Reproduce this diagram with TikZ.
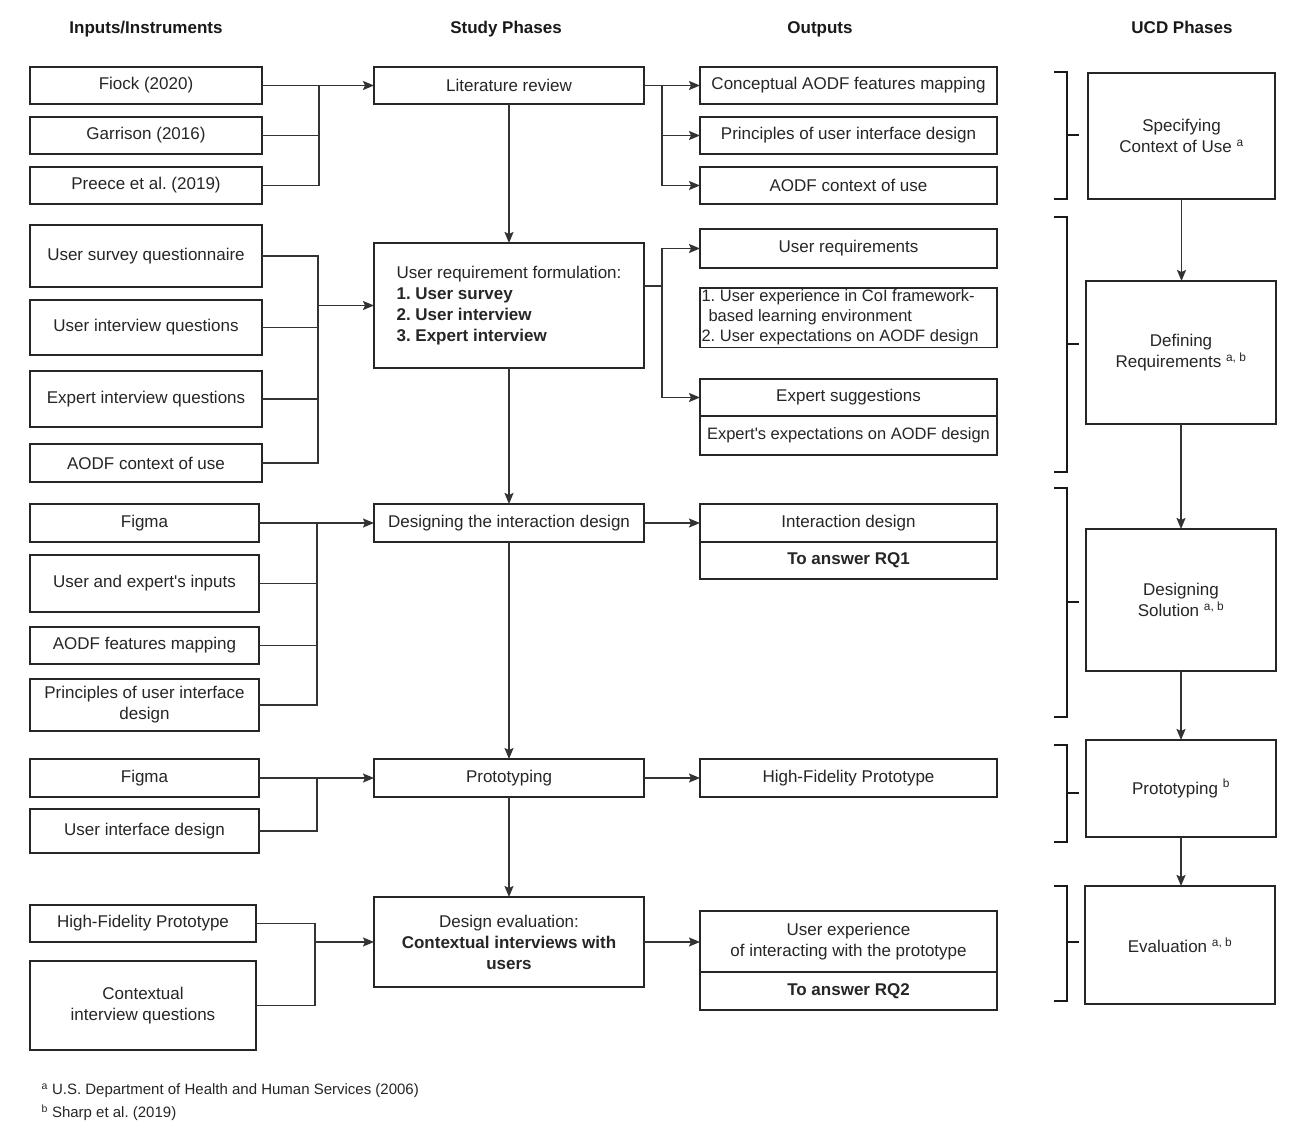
\documentclass[tikz,border=0pt]{standalone}
\usepackage{fontspec}
\setmainfont{Liberation Sans}[Ligatures=TeXOff]
\usetikzlibrary{arrows.meta}
\newcommand\fs{\fontsize{17}{21}\selectfont}
\newcommand\apo{\symbol{39}}
\frenchspacing
\begin{document}
\frenchspacing
\begin{tikzpicture}[x=1pt,y=-1pt,
 box/.style={draw=black!85, line width=1.4pt, outer sep=0pt, inner sep=2pt, align=center, font=\fs, text=black!85, anchor=north west},
 hdr/.style={font=\fs\bfseries, text=black!90, anchor=base},
 con/.style={draw=black!80, line width=1.6pt},
 arr/.style={con, -{Stealth[length=11pt,width=9pt,inset=2pt]}},
 brk/.style={draw=black!90, line width=2.4pt},
 fn/.style={anchor=west, font=\fontsize{15}{18}\selectfont, text=black!85}]
\useasboundingbox (0,0) rectangle (1296,1139);
\fill[white] (0,0) rectangle (1296,1139);
% headers
\node[hdr] (h1) at (146,34) {Inputs/Instruments};
\node[hdr] (h2) at (506,34) {Study Phases};
\node[hdr] (h3) at (820,34) {Outputs};
\node[hdr] (h4) at (1182,34) {UCD Phases};
% inputs
\node[box, minimum width=232pt, minimum height=37pt] (i1) at (30,67) {Fiock (2020)};
\node[box, minimum width=232pt, minimum height=37pt] (i2) at (30,117) {Garrison (2016)};
\node[box, minimum width=232pt, minimum height=37pt] (i3) at (30,167) {Preece et al. (2019)};
\node[box, minimum width=232pt, minimum height=62pt] (i4) at (30,225) {User survey questionnaire};
\node[box, minimum width=232pt, minimum height=55pt] (i5) at (30,300) {User interview questions};
\node[box, minimum width=232pt, minimum height=56pt] (i6) at (30,371) {Expert interview questions};
\node[box, minimum width=232pt, minimum height=38pt] (i7) at (30,444) {AODF context of use};
\node[box, minimum width=229pt, minimum height=38pt] (i8) at (30,504) {Figma};
\node[box, minimum width=229pt, minimum height=57pt] (i9) at (30,555) {User and expert\apo s inputs};
\node[box, minimum width=229pt, minimum height=37pt] (i10) at (30,627) {AODF features mapping};
\node[box, minimum width=229pt, minimum height=52pt] (i11) at (30,679) {Principles of user interface\\design};
\node[box, minimum width=229pt, minimum height=38pt] (i12) at (30,759) {Figma};
\node[box, minimum width=229pt, minimum height=44pt] (i13) at (30,809) {User interface design};
\node[box, minimum width=226pt, minimum height=37pt] (i14) at (30,905) {High-Fidelity Prototype};
\node[box, minimum width=226pt, minimum height=89pt] (i15) at (30,961) {Contextual\\interview questions};
% study phases
\node[box, minimum width=270pt, minimum height=37pt] (s1) at (374,67) {Literature review};
\node[box, minimum width=270pt, minimum height=125pt, align=left] (s2) at (374,243) {User requirement formulation:\\\textbf{1. User survey}\\\textbf{2. User interview}\\\textbf{3. Expert interview}};
\node[box, minimum width=270pt, minimum height=38pt] (s3) at (374,504) {Designing the interaction design};
\node[box, minimum width=270pt, minimum height=38pt] (s4) at (374,759) {Prototyping};
\node[box, minimum width=270pt, minimum height=90pt] (s5) at (374,897) {Design evaluation:\\\textbf{Contextual interviews with}\\\textbf{users}};
% outputs
\node[box, minimum width=297pt, minimum height=37pt] (o1) at (700,67) {Conceptual AODF features mapping};
\node[box, minimum width=297pt, minimum height=37pt] (o2) at (700,117) {Principles of user interface design};
\node[box, minimum width=297pt, minimum height=37pt] (o3) at (700,167) {AODF context of use};
\node[box, minimum width=297pt, minimum height=39pt] (o4) at (700,229) {User requirements};
\node[box, text width=294pt, inner xsep=1.5pt, minimum height=59pt, align=flush left, font=\fontsize{16.5}{20}\selectfont] (o5) at (700,288) {1. User experience in CoI framework-\\\hspace*{7pt}based learning environment\\2. User expectations on AODF design};
\node[box, minimum width=297pt, minimum height=37pt] (o6) at (700,379) {Expert suggestions};
\node[box, minimum width=297pt, minimum height=39pt, font=\fontsize{16.5}{20}\selectfont] (o7) at (700,416) {Expert\apo s expectations on AODF design};
\node[box, minimum width=297pt, minimum height=38pt] (o8) at (700,504) {Interaction design};
\node[box, minimum width=297pt, minimum height=37pt] (o9) at (700,542) {\textbf{To answer RQ1}};
\node[box, minimum width=297pt, minimum height=38pt] (o10) at (700,759) {High-Fidelity Prototype};
\node[box, minimum width=297pt, minimum height=61pt] (o11) at (700,911) {User experience\\of interacting with the prototype};
\node[box, minimum width=297pt, minimum height=38pt] (o12) at (700,972) {\textbf{To answer RQ2}};
% UCD phases
\node[box, minimum width=187pt, minimum height=126pt] (u1) at (1088,73) {Specifying\\Context of Use \textsuperscript{a}};
\node[box, minimum width=190pt, minimum height=143pt] (u2) at (1086,281) {Defining\\Requirements \textsuperscript{a, b}};
\node[box, minimum width=190pt, minimum height=142pt] (u3) at (1086,529) {Designing\\Solution \textsuperscript{a, b}};
\node[box, minimum width=190pt, minimum height=97pt] (u4) at (1086,740) {Prototyping \textsuperscript{b}};
\node[box, minimum width=190pt, minimum height=118pt] (u5) at (1085,886) {Evaluation \textsuperscript{a, b}};
% brackets
\draw[brk] (1054,72) -- (1067,72) -- (1067,199) -- (1054,199); \draw[brk] (1067,135) -- (1079,135);
\draw[brk] (1054,217) -- (1067,217) -- (1067,472) -- (1054,472); \draw[brk] (1067,344) -- (1079,344);
\draw[brk] (1054,488) -- (1067,488) -- (1067,717) -- (1054,717); \draw[brk] (1067,602) -- (1079,602);
\draw[brk] (1054,745) -- (1067,745) -- (1067,842) -- (1054,842); \draw[brk] (1067,793) -- (1079,793);
\draw[brk] (1054,886) -- (1067,886) -- (1067,1001) -- (1054,1001); \draw[brk] (1067,942) -- (1079,942);
% junction coordinates
\coordinate (j1) at (319,85.5);
\coordinate (j2) at (318,305.5);
\coordinate (j3) at (317,523);
\coordinate (j4) at (317,778);
\coordinate (j5) at (315,942);
\coordinate (k1) at (662,85.5);
\coordinate (k2) at (662,286);
% inputs to phases
\draw[arr] (i1.east) -- (s1.west);
\draw[con] (i2.east) -| (j1);
\draw[con] (i3.east) -| (j1);
\draw[con] (i4.east) -| (j2);
\draw[con] (i5.east) -| (j2);
\draw[con] (i6.east) -| (j2);
\draw[con] (i7.east) -| (j2);
\draw[arr] (j2) -- (s2.west);
\draw[arr] (i8.east) -- (s3.west);
\draw[con] (i9.east) -| (j3);
\draw[con] (i10.east) -| (j3);
\draw[con] (i11.east) -| (j3);
\draw[arr] (i12.east) -- (s4.west);
\draw[con] (i13.east) -| (j4);
\draw[con] (i14.east) -| (j5);
\draw[con] (i15.east) -| (j5);
\draw[arr] (j5) -- (s5.west);
% phases to phases
\draw[arr] (s1.south) -- (s2.north);
\draw[arr] (s2.south) -- (s3.north);
\draw[arr] (s3.south) -- (s4.north);
\draw[arr] (s4.south) -- (s5.north);
% phases to outputs
\draw[arr] (s1.east) -- (o1.west);
\draw[arr] (k1) |- (o2.west);
\draw[arr] (k1) |- (o3.west);
\draw[con] (s2.east |- k2) -- (k2);
\draw[arr] (k2) |- (o4.west);
\draw[arr] (k2) |- (o6.west);
\draw[arr] (s3.east) -- (o8.west);
\draw[arr] (s4.east) -- (o10.west);
\draw[arr] (s5.east) -- (o11.west |- s5.east);
% UCD arrows
\draw[arr] (u1.south) -- (u1.south |- u2.north);
\draw[arr] (u2.south) -- (u3.north);
\draw[arr] (u3.south) -- (u4.north);
\draw[arr] (u4.south) -- (u4.south |- u5.north);
% footnotes
\node[fn] (fn1) at (38,1091) {\textsuperscript{a} U.S. Department of Health and Human Services (2006)};
\node[fn] (fn2) at (38,1113) {\textsuperscript{b} Sharp et al. (2019)};
\end{tikzpicture}
\end{document}
